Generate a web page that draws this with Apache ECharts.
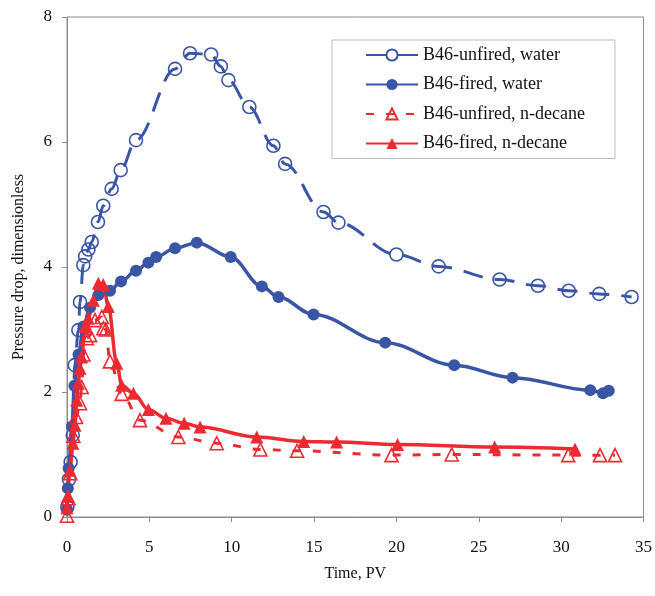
<!DOCTYPE html>
<html>
<head>
<meta charset="utf-8">
<script src="https://cdn.jsdelivr.net/npm/echarts@6/dist/echarts.min.js"></script>
<style>html,body{margin:0;padding:0;background:#fff}#c{width:655px;height:596px}</style>
</head>
<body>
<div id="c"></div>
<script>
// Data: [Time (PV), Pressure drop]
var unfiredWater = [[0.02,0.16],[0.12,0.6],[0.22,0.88],[0.35,1.31],[0.47,2.43],[0.69,2.99],[0.79,3.44],[0.99,4.03],[1.1,4.17],[1.3,4.28],[1.5,4.4],[1.88,4.72],[2.2,4.98],[2.71,5.25],[3.26,5.55],[4.19,6.03],[6.56,7.17],[7.47,7.42],[8.75,7.40],[9.34,7.21],[9.8,6.99],[11.07,6.56],[12.53,5.94],[13.24,5.65],[15.57,4.88],[16.48,4.71],[20.0,4.20],[22.56,4.01],[26.26,3.80],[28.59,3.70],[30.46,3.62],[32.31,3.57],[34.28,3.52]];
var firedWater = [[0.0,0.12],[0.05,0.46],[0.1,0.78],[0.3,1.45],[0.45,2.1],[0.7,2.6],[1.0,3.05],[1.4,3.35],[1.9,3.55],[2.61,3.62],[3.28,3.77],[4.19,3.94],[4.94,4.07],[5.41,4.16],[6.56,4.30],[7.88,4.39],[9.94,4.16],[11.83,3.69],[12.84,3.52],[14.97,3.24],[19.32,2.79],[23.51,2.43],[27.05,2.23],[31.77,2.03],[32.54,1.98],[32.89,2.02]];
var unfiredDecane = [[0.0,0.02],[0.1,0.3],[0.2,0.7],[0.38,1.3],[0.55,1.6],[0.79,1.82],[0.89,2.08],[1.0,2.6],[1.2,2.86],[1.4,2.91],[1.7,3.15],[2.11,3.2],[2.21,3.02],[2.35,3.0],[2.61,2.49],[3.32,1.97],[4.43,1.55],[6.76,1.28],[9.09,1.18],[11.74,1.08],[13.97,1.06],[19.7,0.99],[23.36,1.0],[30.43,0.99],[32.36,0.99],[33.27,0.99]];
var firedDecane = [[0.0,0.15],[0.02,0.33],[0.18,0.75],[0.36,1.18],[0.49,1.47],[0.59,1.87],[0.69,2.14],[0.79,2.38],[0.89,2.56],[1.09,3.05],[1.29,3.18],[1.6,3.47],[1.9,3.74],[2.2,3.72],[2.51,3.37],[3.02,2.46],[3.32,2.11],[4.03,1.98],[4.94,1.72],[6.01,1.58],[7.11,1.50],[8.08,1.44],[11.52,1.28],[14.37,1.21],[16.37,1.20],[20.07,1.16],[25.96,1.12],[30.84,1.09]];
var seriesNames = ['B46-unfired, water','B46-fired, water','B46-unfired, n-decane','B46-fired, n-decane'];
var xTicks = {min:0, max:35, interval:5};
var yTicks = {min:0, max:8, interval:2};

var BLUE = '#3a55a6', RED = '#ed2a32';
var FONT = 'Liberation Serif';
var chart = echarts.init(document.getElementById('c'), null, {renderer:'canvas'});
chart.setOption({
  animation:false,
  backgroundColor:'#fff',
  textStyle:{fontFamily:FONT},
  grid:{left:67, right:10, top:17, bottom:79, show:true, borderColor:'#8c8c8c', borderWidth:1},
  legend:{
    left:332, top:40, orient:'vertical',
    data:seriesNames,
    itemWidth:52, itemHeight:14, itemGap:11.5,
    padding:[6,30,6,33],
    borderColor:'#bdbdbd', borderWidth:1, backgroundColor:'#fff',
    textStyle:{fontFamily:FONT, fontSize:18, color:'#111'}
  },
  xAxis:{
    type:'value', min:xTicks.min, max:xTicks.max, interval:xTicks.interval,
    name:'Time, PV', nameLocation:'middle', nameGap:49,
    nameTextStyle:{fontFamily:FONT, fontSize:16, color:'#111'},
    axisLine:{show:true, lineStyle:{color:'#8c8c8c'}},
    axisTick:{show:true, inside:false, length:5, lineStyle:{color:'#8c8c8c'}},
    axisLabel:{fontFamily:FONT, fontSize:17, color:'#111', margin:22},
    splitLine:{show:false}
  },
  yAxis:{
    type:'value', min:yTicks.min, max:yTicks.max, interval:yTicks.interval,
    name:'Pressure drop, dimensionless', nameLocation:'middle', nameGap:40,
    nameTextStyle:{fontFamily:FONT, fontSize:16, color:'#111'},
    axisLine:{show:true, lineStyle:{color:'#8c8c8c'}},
    axisTick:{show:true, inside:false, length:5, lineStyle:{color:'#8c8c8c'}},
    axisLabel:{fontFamily:FONT, fontSize:17, color:'#111', margin:15},
    splitLine:{show:false}
  },
  series:[
    {name:seriesNames[0], type:'line', data:unfiredWater, smooth:0.35, smoothMonotone:'x',
     symbol:'circle', symbolSize:13,
     itemStyle:{color:'rgba(255,255,255,0)', borderColor:BLUE, borderWidth:1.6},
     lineStyle:{color:BLUE, width:3, type:[20,12]}},
    {name:seriesNames[1], type:'line', data:firedWater, smooth:0.35, smoothMonotone:'x',
     symbol:'circle', symbolSize:12,
     itemStyle:{color:BLUE, borderColor:BLUE, borderWidth:0},
     lineStyle:{color:BLUE, width:3.5}},
    {name:seriesNames[2], type:'line', data:unfiredDecane, smooth:0.35, smoothMonotone:'x',
     symbol:'triangle', symbolSize:13,
     itemStyle:{color:'rgba(255,255,255,0)', borderColor:RED, borderWidth:1.6},
     lineStyle:{color:RED, width:3, type:[8,12]}},
    {name:seriesNames[3], type:'line', data:firedDecane, smooth:0.35, smoothMonotone:'x',
     symbol:'triangle', symbolSize:13,
     itemStyle:{color:RED, borderColor:RED, borderWidth:0},
     lineStyle:{color:RED, width:3.5}}
  ]
});
</script>
</body>
</html>
